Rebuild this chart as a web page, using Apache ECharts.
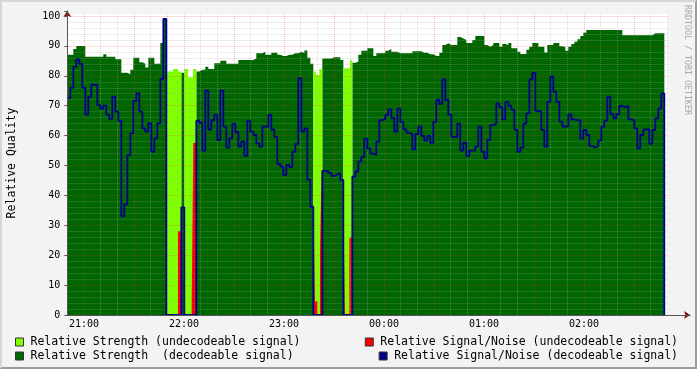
<!DOCTYPE html>
<html><head><meta charset="utf-8">
<script src="https://cdn.jsdelivr.net/npm/echarts@6/dist/echarts.min.js"></script>
<style>
html,body{margin:0;padding:0;background:#f3f3f3;}
#c{position:absolute;left:0;top:0;width:697px;height:369px;}
#b{position:absolute;left:0;top:0;width:697px;height:369px;box-sizing:border-box;border-top:2px solid #d6d6d6;border-left:2px solid #d6d6d6;border-right:2px solid #9c9c9c;border-bottom:2px solid #9c9c9c;pointer-events:none;}
</style></head><body><div id="c"></div><div id="b"></div>
<script>
// time axis: minutes after 20:00; first sample 20:50, one sample every 1.8 minutes
const startMinute = 50;
const stepMinutes = 1.8;

// Relative Strength (decodeable signal)
const strengthDecodeable = [
 87, 87, 89, 90, 90, 90, 86.4, 86.4, 86.4, 86.4,
 86.4, 86.4, 87.2, 86.4, 86.4, 86.4, 85.5, 85.5, 81, 81,
 80.5, 82, 86, 86, 84.5, 84, 82.8, 86, 86, 84,
 84, 91, 99, 0, 0, 0, 0, 0, 81, 0,
 0, 0, 0, 81.4, 82, 82, 83, 82.3, 82.3, 84.2,
 84.2, 85, 85, 84, 84, 84, 84, 85.3, 85.3, 85.3,
 85.3, 85.3, 85.8, 87.5, 87.5, 88, 87, 87, 87.7, 87.7,
 87, 86.6, 86.6, 87, 87, 87.5, 87.5, 88, 87.6, 88.5,
 86, 84, 0, 0, 0, 85.8, 85.8, 85.8, 86.2, 86.2,
 86.2, 85.3, 0, 0, 0, 84.4, 84.7, 87, 88.4, 88.4,
 89.2, 89.2, 86.6, 87.5, 87.5, 87.5, 88.4, 89, 88, 88,
 87.5, 87.5, 87.5, 87.5, 87.5, 88.2, 88.2, 88.2, 87.7, 87.7,
 87.2, 87.2, 86.6, 86.6, 87.7, 90.3, 90.9, 90.3, 90.3, 90.3,
 93, 92.5, 92, 91, 91, 92, 93.3, 93.3, 93.3, 90.3,
 89.7, 90.3, 91, 91, 89.7, 90.6, 90.3, 91, 89.2, 89.2,
 88, 87.3, 87.3, 88.7, 89.7, 91, 91, 89.7, 89.7, 87.8,
 90.3, 90.3, 91, 91, 89.9, 89.6, 88.4, 89.7, 90.6, 91.4,
 92.2, 93.3, 94.4, 95.3, 95.3, 95.3, 95.3, 95.3, 95.3, 95.3,
 95.3, 95.3, 95.3, 95.3, 95.3, 93.6, 93.6, 93.6, 93.6, 93.6,
 93.6, 93.6, 93.6, 93.6, 93.6, 94.2, 94.2, 94.2, 94.2, 0
];

// Relative Signal/Noise (decodeable signal)
const snrDecodeable = [
 72.5, 76, 83, 85.5, 84, 76, 67, 73, 77, 77,
 70.2, 69, 70, 67, 65.6, 73, 68, 64.9, 33, 37,
 53.5, 60.8, 71.6, 74.1, 68, 62.4, 61.3, 64.1, 54.6, 59.1,
 64.1, 79, 99, 0, 0, 0, 0, 0, 36, 0,
 0, 0, 0, 65, 64.3, 55, 75, 62, 65.2, 67,
 58.5, 75, 63, 56, 59.1, 63.9, 61.2, 56.3, 58, 53.2,
 65, 61.3, 60.2, 57.4, 56.3, 63, 63, 66.9, 62.1, 59.6,
 50.5, 49.6, 46.8, 50.2, 49.4, 54.6, 57.2, 79.2, 61.3, 62.4,
 45.2, 36.2, 0, 0, 0, 48.2, 48.2, 47.5, 46.5, 47,
 47.5, 45.2, 0, 0, 0, 46.3, 48, 51.3, 52.9, 59,
 55.7, 54, 53.5, 58, 65.2, 65.5, 66.9, 68.8, 65.8, 61.3,
 69, 64.6, 62.1, 61, 60.5, 55.4, 60.5, 63, 59.9, 58.3,
 59.9, 57.6, 64.6, 71.9, 70.6, 78.8, 71.9, 67, 59.6, 59.6,
 64, 55, 57.6, 53.2, 55, 55, 56.3, 63, 54.6, 52.4,
 58.5, 63.5, 64, 70.8, 69.5, 65.4, 71.3, 70, 68.6, 62,
 54.6, 56, 64, 67.4, 78.8, 81, 68.3, 68, 61.9, 56.3,
 71.3, 79.7, 74.7, 71.3, 64.7, 63, 63.2, 67.1, 65.4, 65.2,
 65.2, 59, 61.9, 60.2, 56.5, 56, 56.5, 58.3, 63, 65,
 73, 67.2, 65.8, 67.2, 69.9, 69.5, 69.9, 65.4, 65, 62.4,
 55.7, 60.2, 62.1, 62.1, 57.2, 61.9, 65.8, 69.1, 74.1, 0
];

// Relative Strength (undecodeable signal): change points (minutes after 20:00) and values
const strengthUndecTimes = [109.4, 113.4, 116.4, 118.4, 120.2, 122.4, 125.4, 127.4,
  197.6, 199.2, 201.2, 203.0, 215.6, 219.6, 221.0];
const strengthUndecValues = [81.4, 82.3, 81.4, 0, 82.3, 79.5, 82.3, 0,
  81.4, 80.3, 82.2, 0, 82.5, 85.3, 0];

// Relative Signal/Noise (undecodeable signal)
const snrUndecTimes = [116.4, 118.0, 118.4, 124.6, 125.6, 127.4,
  197.6, 198.6, 200.0, 201.6, 202.6, 203.2, 215.6, 216.6, 219.2, 221.0];
const snrUndecValues = [28, 36, 0, 2.8, 57.5, 0,
  38, 4.5, 0, 21.7, 50, 0, 36.2, 0, 25.9, 0];

const yTickLabels = [0, 10, 20, 30, 40, 50, 60, 70, 80, 90, 100];
const xHourTicks = [60, 120, 180, 240, 300, 360];
const xHourLabels = ['21:00', '22:00', '23:00', '00:00', '01:00', '02:00'];

const names = {
  su: 'Relative Strength (undecodeable signal)',
  sd: 'Relative Strength  (decodeable signal)',
  nu: 'Relative Signal/Noise (undecodeable signal)',
  nd: 'Relative Signal/Noise (decodeable signal)'
};
const colors = { su: '#80ff00', sd: '#006600', nu: '#ff0000', nd: '#00008c' };

const sampleTimes = strengthDecodeable.map((_, i) => startMinute + i * stepMinutes);
const pair = (ts, vs) => ts.map((t, i) => [t, vs[i]]);

const canvasEnd = 410.4, canvasTop = 100.7;
const FONT = "'DejaVu Sans Mono', monospace";
const minorStyle = { color: 'rgba(170,170,170,0.4)', width: 1, type: [1, 1] };
const majorStyle = { color: 'rgba(255,50,50,0.35)', width: 1, type: [1, 1] };
const gridLines = [];
for (let t = 60; t <= 410; t += 10) {
  if (t % 30 !== 0) gridLines.push([{ coord: [t, 0], lineStyle: minorStyle }, { coord: [t, canvasTop] }]);
}
for (let v = 2; v <= 100; v += 2) {
  if (v % 10 !== 0) gridLines.push([{ coord: [50, v], lineStyle: minorStyle }, { coord: [canvasEnd, v] }]);
}
for (let t = 60; t <= 390; t += 30) gridLines.push([{ coord: [t, 0], lineStyle: majorStyle }, { coord: [t, canvasTop] }]);
for (let v = 10; v <= 100; v += 10) gridLines.push([{ coord: [50, v], lineStyle: majorStyle }, { coord: [canvasEnd, v] }]);

const xMin = 50, xMax = 423.6, yMax = 101.67;
const legendBase = { orient: 'horizontal', padding: 0, itemWidth: 8, itemHeight: 8, selectedMode: false,
  textStyle: { fontFamily: FONT, fontSize: 11.5, color: '#000', padding: [0, 0, 0, 2] } };
function legendItem(key) {
  return { name: names[key], icon: 'rect', itemStyle: { color: colors[key], borderColor: '#333', borderWidth: 1 } };
}

const chart = echarts.init(document.getElementById('c'), null, { renderer: 'canvas' });
chart.setOption({
  animation: false,
  grid: { left: 67.33, right: 7, top: 11, bottom: 54, show: false, containLabel: false, outerBoundsMode: 'none' },
  legend: [
    Object.assign({}, legendBase, { left: 15, top: 336, data: [legendItem('su')] }),
    Object.assign({}, legendBase, { left: 15, top: 350, data: [legendItem('sd')] }),
    Object.assign({}, legendBase, { right: 19, top: 336, data: [legendItem('nu')] }),
    Object.assign({}, legendBase, { right: 19, top: 350, data: [legendItem('nd')] })
  ],
  xAxis: [{
    type: 'value', min: xMin, max: xMax, interval: 10, z: 8,
    axisLine: { show: true, lineStyle: { color: '#555', width: 1 } },
    axisTick: { show: false },
    splitLine: { show: false },
    axisLabel: { margin: 4, fontFamily: FONT, fontSize: 10, color: '#000',
      formatter: v => { const k = xHourTicks.indexOf(Math.round(v * 1000) / 1000); return k >= 0 ? xHourLabels[k] : ''; } }
  }, {
    type: 'value', min: xMin, max: xMax, position: 'bottom', z: 7,
    axisLine: { show: true, symbol: ['none', 'arrow'], symbolSize: [6, 6], lineStyle: { color: '#7f0000', width: 1 } },
    axisTick: { show: false }, axisLabel: { show: false }, splitLine: { show: false }
  }],
  yAxis: [{
    type: 'value', min: 0, max: yMax, interval: 10, z: 8,
    name: 'Relative Quality', nameLocation: 'middle', nameGap: 49, nameRotate: 90,
    nameTextStyle: { fontFamily: FONT, fontSize: 11.5, color: '#000' },
    axisLine: { show: true, lineStyle: { color: '#555', width: 1 } },
    axisTick: { show: true, length: 3, lineStyle: { color: '#555' } },
    splitLine: { show: false },
    axisLabel: { margin: 7, fontFamily: FONT, fontSize: 10, color: '#000',
      formatter: v => yTickLabels.indexOf(Math.round(v * 1000) / 1000) >= 0 ? String(Math.round(v)) : '' }
  }, {
    type: 'value', min: 0, max: yMax, position: 'left', z: 7,
    axisLine: { show: true, symbol: ['none', 'arrow'], symbolSize: [6, 6], lineStyle: { color: '#7f0000', width: 1 } },
    axisTick: { show: false }, axisLabel: { show: false }, splitLine: { show: false }
  }],
  graphic: [{
    type: 'text', x: 691, y: 5, rotation: -Math.PI / 2,
    style: { text: 'RRDTOOL / TOBI OETIKER', font: "8.3px 'DejaVu Sans Mono', monospace", fill: '#a8a8a8',
      textAlign: 'left', textVerticalAlign: 'top' }
  }],
  series: [
    {
      name: names.sd, type: 'line', step: 'end', data: pair(sampleTimes, strengthDecodeable),
      symbol: 'none', showSymbol: false, lineStyle: { width: 0 }, itemStyle: { color: colors.sd },
      areaStyle: { color: colors.sd, opacity: 1 }, z: 2,
      markArea: { silent: true, z: 1, itemStyle: { color: '#ffffff' },
        data: [[{ coord: [xMin, 0] }, { coord: [canvasEnd, canvasTop] }]] }
    },
    {
      name: names.su, type: 'line', step: 'end', data: pair(strengthUndecTimes, strengthUndecValues),
      symbol: 'none', showSymbol: false, lineStyle: { width: 0 }, itemStyle: { color: colors.su },
      areaStyle: { color: colors.su, opacity: 1 }, z: 2
    },
    {
      name: names.nu, type: 'line', step: 'end', data: pair(snrUndecTimes, snrUndecValues),
      symbol: 'none', showSymbol: false, lineStyle: { width: 0 }, itemStyle: { color: colors.nu },
      areaStyle: { color: colors.nu, opacity: 1 }, z: 2
    },
    {
      name: 'grid', type: 'line', data: [], symbol: 'none', z: 4,
      markLine: { silent: true, z: 4, symbol: 'none', label: { show: false }, animation: false, data: gridLines }
    },
    {
      name: names.nd, type: 'line', step: 'end', data: pair(sampleTimes, snrDecodeable),
      symbol: 'none', showSymbol: false, lineStyle: { width: 1.8, color: colors.nd }, itemStyle: { color: colors.nd }, z: 6
    }
  ]
});
</script></body></html>
